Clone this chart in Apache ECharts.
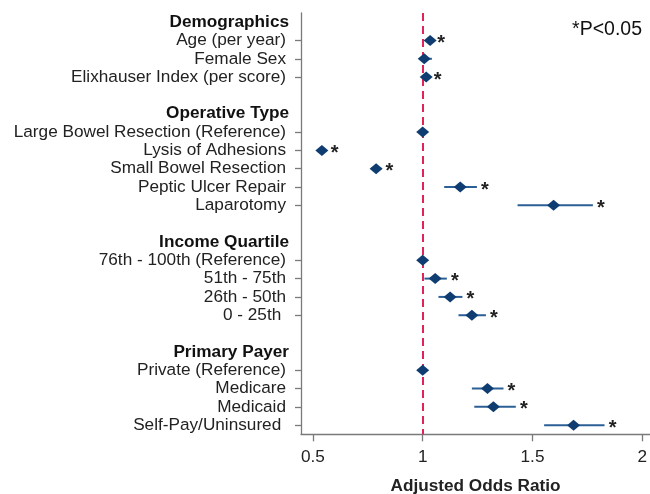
<!DOCTYPE html>
<html>
<head>
<meta charset="utf-8">
<script src="https://cdn.jsdelivr.net/npm/echarts@6/dist/echarts.min.js"></script>
<style>
html,body{margin:0;padding:0;background:#fff;}
#chart{width:650px;height:494px;}
</style>
</head>
<body>
<div id="chart"></div>
<script>
// Rows from top to bottom ('' = spacer row)
const rows = ['Demographics','Age (per year)','Female Sex','Elixhauser Index (per score)','',
  'Operative Type','Large Bowel Resection (Reference)','Lysis of Adhesions','Small Bowel Resection','Peptic Ulcer Repair','Laparotomy','',
  'Income Quartile','76th - 100th (Reference)','51th - 75th','26th - 50th','0 - 25th ','',
  'Primary Payer','Private (Reference)','Medicare','Medicaid','Self-Pay/Uninsured '];
const headers = ['Demographics','Operative Type','Income Quartile','Primary Payer'];
const oddsRatio = [null,1.034,1.007,1.016,null, null,1,0.541,0.788,1.171,1.596,null, null,1,1.057,1.125,1.224,null, null,1,1.295,1.322,1.687];
const lowerCI   = [null,1.020,0.984,1.004,null, null,1,0.520,0.765,1.098,1.432,null, null,1,1.008,1.072,1.163,null, null,1,1.224,1.235,1.553];
const upperCI   = [null,1.048,1.042,1.032,null, null,1,0.563,0.812,1.247,1.775,null, null,1,1.110,1.181,1.288,null, null,1,1.368,1.424,1.828];
const significant=[0,1,0,1,0, 0,0,1,1,1,1,0, 0,0,1,1,1,0, 0,0,1,1,1];
const xTicks = [0.5, 1, 1.5, 2];
const nullValue = 1;
const axisTitle = 'Adjusted Odds Ratio';
const noteText = '*P<0.05';

const FONT = 'Liberation Sans, Arial, sans-serif';
const FS = 17.2;
const scatterData = [];
const ciData = [];
rows.forEach((r, i) => {
  if (oddsRatio[i] != null) {
    scatterData.push([oddsRatio[i], i]);
    ciData.push([lowerCI[i], i, upperCI[i], significant[i]]);
  }
});

const chart = echarts.init(document.getElementById('chart'), null, {renderer: 'canvas'});
chart.setOption({
  animation: false,
  backgroundColor: '#fff',
  grid: {left: 301, top: 13, width: 349, bottom: 59.7, containLabel: false, outerBoundsMode: 'none'},
  xAxis: {
    type: 'value', min: 0.446, max: 2.035,
    axisLine: {show: true, lineStyle: {color: '#7a7a7a', width: 1.3}},
    axisTick: {show: true, length: 7, customValues: xTicks, lineStyle: {color: '#7a7a7a', width: 1.3}},
    axisLabel: {customValues: xTicks, margin: 14, fontSize: FS, color: '#222', fontFamily: FONT,
      formatter: v => String(v)},
    splitLine: {show: false},
    name: axisTitle, nameLocation: 'middle', nameGap: 43,
    nameTextStyle: {fontSize: FS, fontWeight: 'bold', color: '#222', fontFamily: FONT}
  },
  yAxis: {
    type: 'category', data: rows, inverse: true,
    axisLine: {show: true, lineStyle: {color: '#7a7a7a', width: 1.3}},
    axisTick: {show: true, length: 6, alignWithLabel: true,
      interval: (idx) => oddsRatio[idx] != null,
      lineStyle: {color: '#7a7a7a', width: 1.3}},
    axisLabel: {
      interval: 0, margin: 12, fontFamily: FONT,
      formatter: v => v === '' ? '' : (headers.includes(v) ? '{h|' + v + '}' : '{n|' + v + '}'),
      rich: {
        h: {fontSize: FS, fontWeight: 'bold', color: '#111', fontFamily: FONT},
        n: {fontSize: FS, color: '#222', fontFamily: FONT, padding: [0, 3, 0, 0]}
      }
    },
    splitLine: {show: false}
  },
  graphic: [{
    type: 'text', right: 8, top: 20,
    style: {text: noteText, font: '19.5px ' + FONT, fill: '#111'}
  }],
  series: [
    {
      type: 'custom', z: 2,
      data: ciData,
      renderItem: (params, api) => {
        const lo = api.value(0), row = api.value(1), hi = api.value(2), sig = api.value(3);
        const p1 = api.coord([lo, row]);
        const p2 = api.coord([hi, row]);
        const children = [{
          type: 'line',
          shape: {x1: p1[0], y1: p1[1], x2: p2[0], y2: p2[1]},
          style: {stroke: '#2c5f96', lineWidth: 2}
        }];
        if (sig) {
          children.push({
            type: 'text',
            style: {text: '*', x: p2[0] + 8, y: p2[1] + 3, font: 'bold 20px ' + FONT,
              fill: '#222', textAlign: 'center', textVerticalAlign: 'middle'}
          });
        }
        return {type: 'group', children};
      }
    },
    {
      type: 'scatter', z: 5,
      data: scatterData,
      symbol: 'diamond', symbolSize: [13, 11],
      itemStyle: {color: '#0f3d72', opacity: 1},
      markLine: {
        silent: true, symbol: 'none', z: 1,
        label: {show: false},
        lineStyle: {color: '#e0245a', width: 2, type: [8, 5]},
        data: [{xAxis: nullValue}]
      }
    }
  ]
});
</script>
</body>
</html>
